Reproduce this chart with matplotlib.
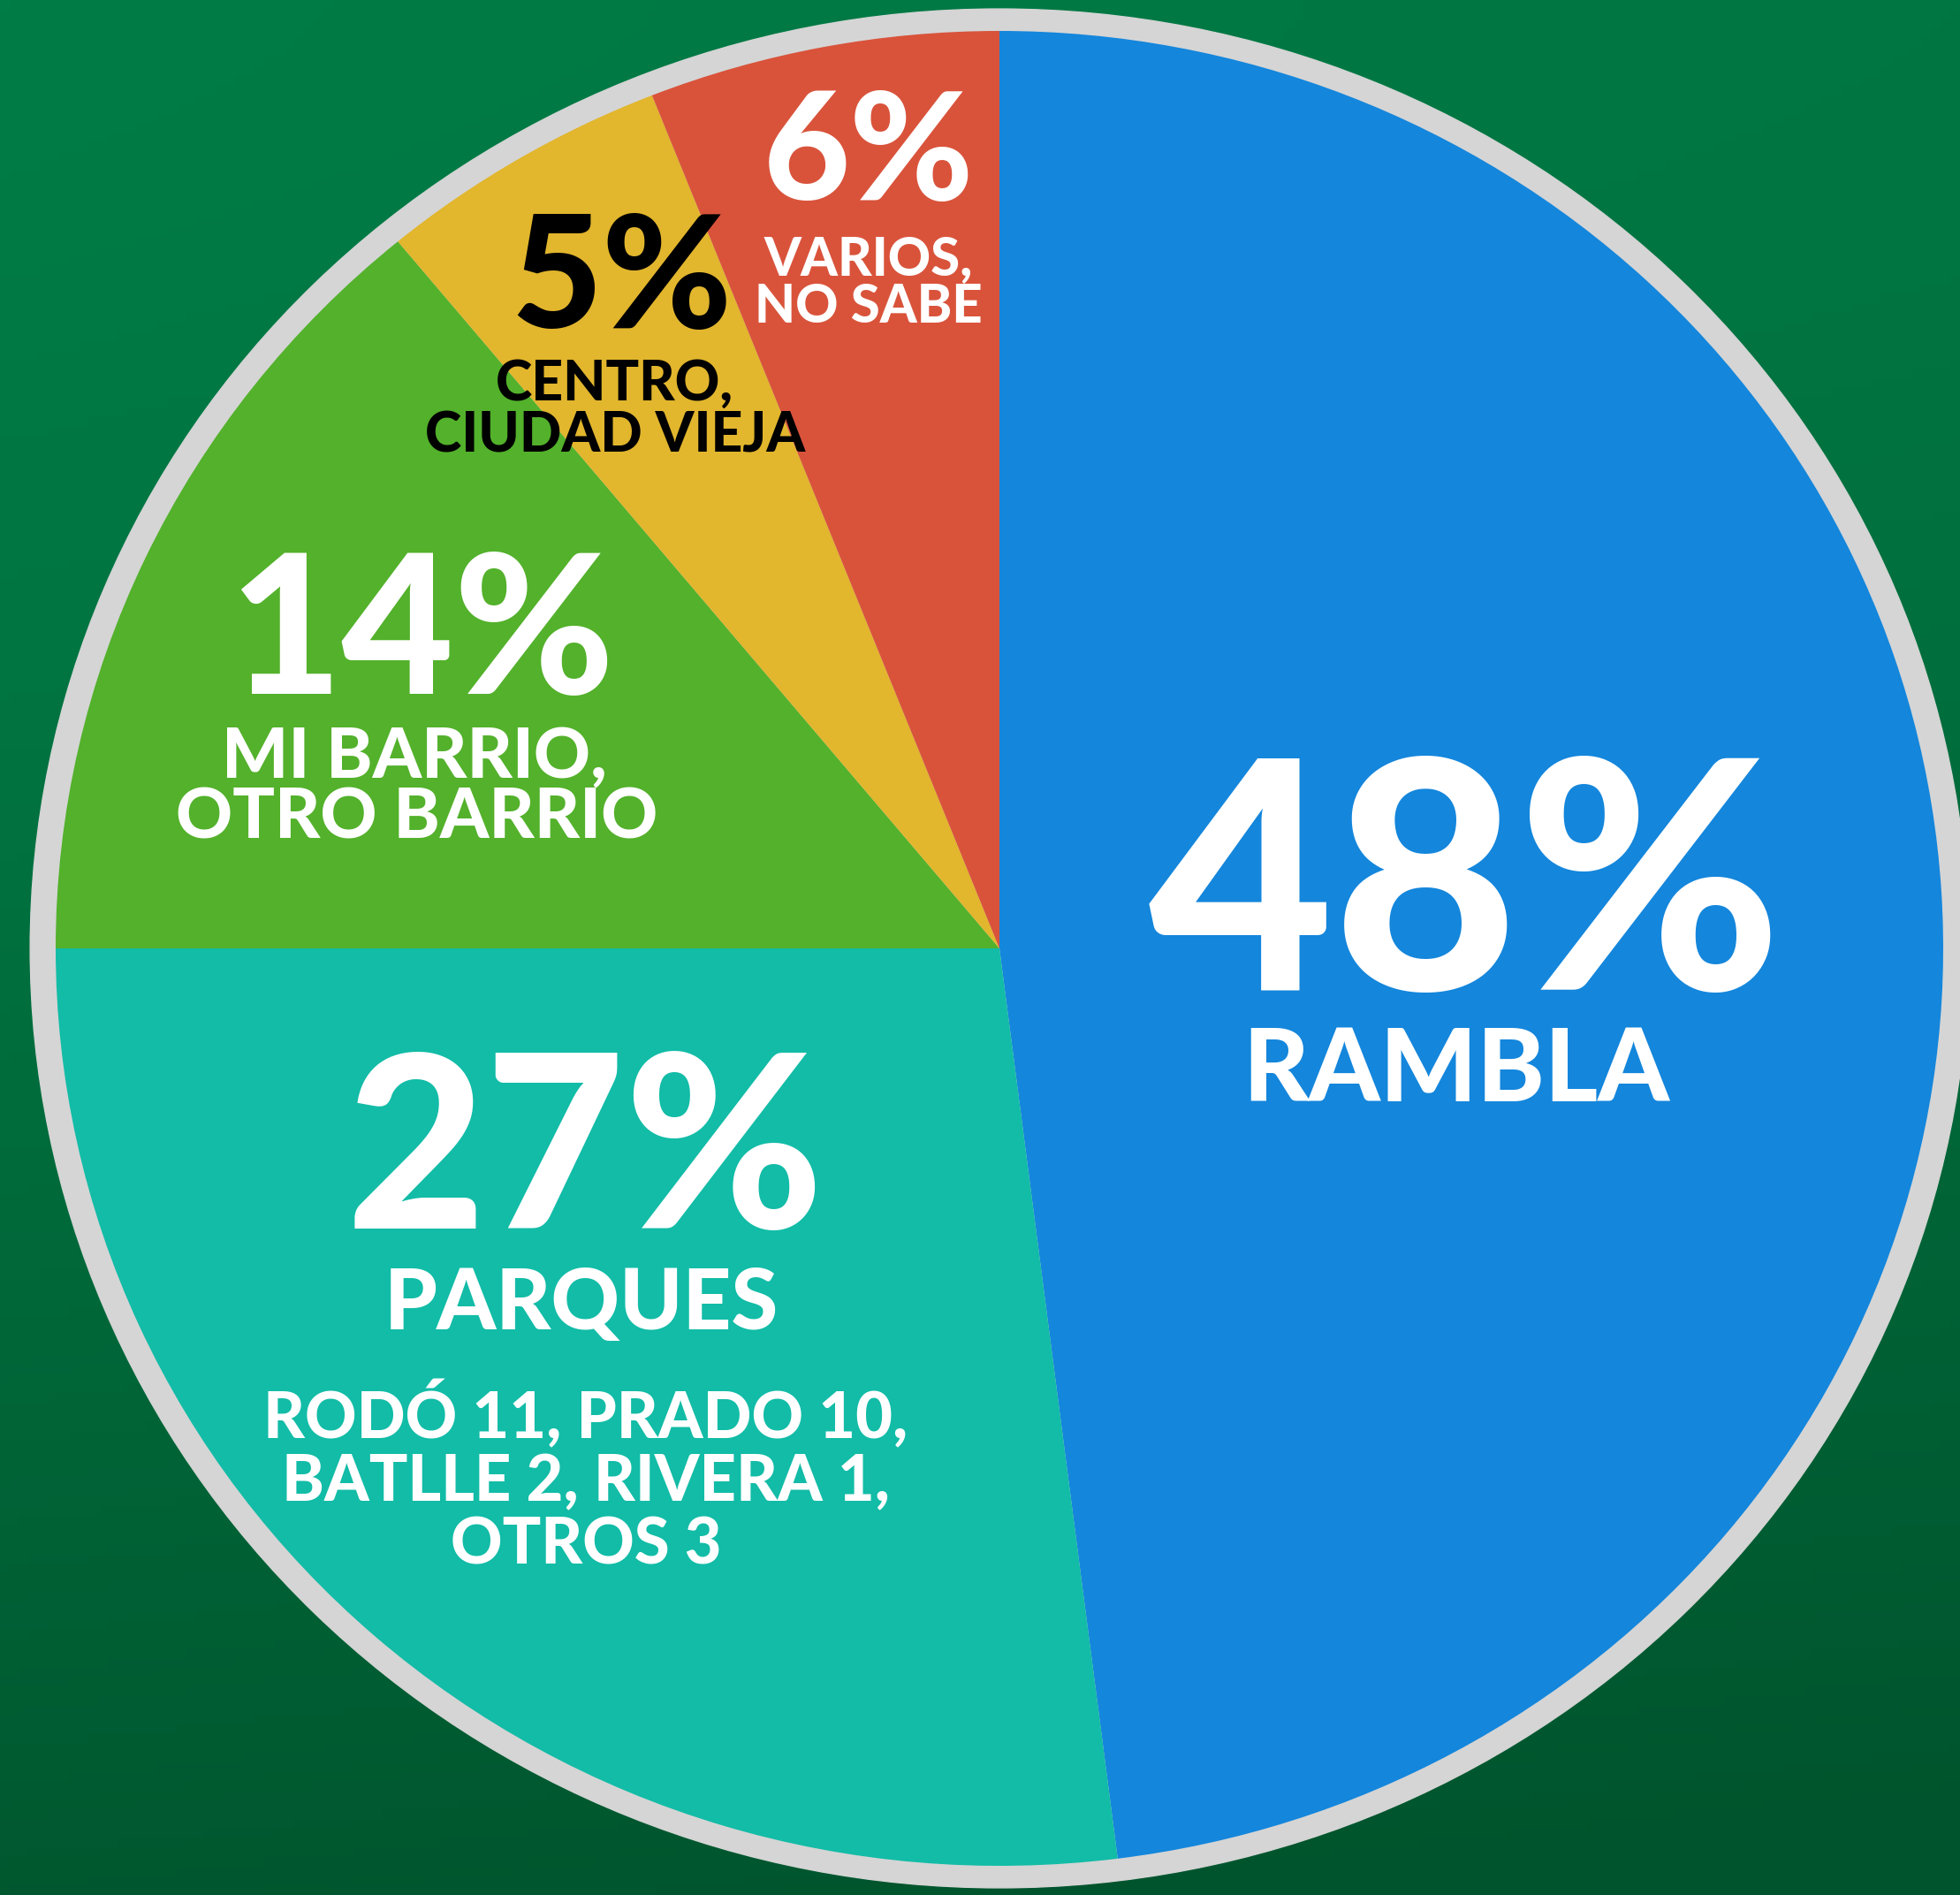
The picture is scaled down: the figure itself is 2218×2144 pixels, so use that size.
import numpy as np
import matplotlib
matplotlib.use('Agg')
import matplotlib.pyplot as plt
from matplotlib.patches import Ellipse

# datos de la encuesta
categorias = ['RAMBLA', 'PARQUES', 'MI BARRIO, OTRO BARRIO', 'CENTRO, CIUDAD VIEJA', 'VARIOS, NO SABE']
valores = [48, 27, 14, 5, 6]
porcentajes = ['48%', '27%', '14%', '5%', '6%']
colores = ['#1486dc', '#12bca7', '#53b12b', '#e2b62d', '#d9533b']
detalle_parques = ['RODÓ 11, PRADO 10,', 'BATLLE 2, RIVERA 1,', 'OTROS 3']

W, H = 2218, 2144
FUENTE = ['Lato', 'DejaVu Sans']

fig = plt.figure(figsize=(W / 100, H / 100), dpi=100)

# fondo verde con degradé
bg = fig.add_axes([0, 0, 1, 1])
yy, xx = np.mgrid[0:1:200j, 0:1:200j]
top = np.array([0, 124, 70]) / 255
bot = np.array([0, 84, 45]) / 255
t = np.clip(yy ** 1.5 * 0.9 + xx * 0.15, 0, 1)[..., None]
img = top * (1 - t) + bot * t
bg.imshow(img, aspect='auto', extent=[0, 1, 0, 1], origin='upper')
bg.axis('off')

ax = fig.add_axes([0, 0, 1, 1])
ax.patch.set_alpha(0)
cx, cy = 1131, 1073
a, b = 1068, 1038

# borde gris
ax.add_patch(Ellipse((0, 0), 2 * 1.027, 2 * 1.024, color='#d5d5d5', zorder=0))

ax.pie(valores, colors=colores, startangle=90, counterclock=False, radius=1,
       wedgeprops=dict(linewidth=0))
ax.set_aspect('auto')
ax.set_xlim(-cx / a, (W - cx) / a)
ax.set_ylim(-(H - cy) / b, cy / b)
ax.axis('off')


def txt(x, y, s, size, color='white'):
    # x, y en pixeles desde arriba a la izquierda, y = linea base
    fig.text(x / W, 1 - y / H, s, fontsize=size, color=color, ha='center',
             va='baseline', family=FUENTE, fontweight='black')


# RAMBLA
txt(1658, 1120, porcentajes[0], 260)
txt(1648, 1246, categorias[0], 83)

# PARQUES
txt(662, 1390, porcentajes[1], 196)
txt(658, 1504, categorias[1], 69)
for i, linea in enumerate(detalle_parques):
    txt(663, 1627 + i * 71, linea, 52)

# BARRIO
txt(477, 785, porcentajes[2], 158)
txt(469, 880, 'MI BARRIO,', 57)
txt(472, 948, 'OTRO BARRIO', 57)

# CENTRO
txt(703, 371, porcentajes[3], 128, color='black')
txt(695, 453, 'CENTRO,', 45, color='black')
txt(696, 512, 'CIUDAD VIEJA', 45, color='black')

# VARIOS
txt(983, 226, porcentajes[4], 122)
txt(983, 311, 'VARIOS,', 43)
txt(983, 365, 'NO SABE', 43)

fig.savefig('out.png', dpi=100)
